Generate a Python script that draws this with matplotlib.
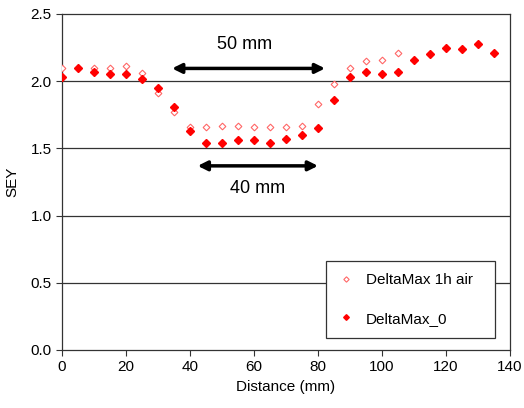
import numpy as np
import matplotlib
matplotlib.use("Agg")
import matplotlib.pyplot as plt

plt.rcParams['font.family'] = ['Liberation Sans', 'DejaVu Sans']

# -- data
distance = [0, 5, 10, 15, 20, 25, 30, 35, 40, 45, 50, 55, 60, 65, 70,
            75, 80, 85, 90, 95, 100, 105, 110, 115, 120, 125, 130, 135]
sey_1h_air = [2.10, 2.10, 2.10, 2.10, 2.11, 2.06, 1.91, 1.77, 1.66, 1.66,
              1.67, 1.67, 1.66, 1.66, 1.66, 1.67, 1.83, 1.98, 2.10, 2.15,
              2.16, 2.21, 2.16, 2.20, 2.25, 2.24, 2.28, 2.21]
sey_0 = [2.03, 2.10, 2.07, 2.05, 2.05, 2.02, 1.95, 1.81, 1.63, 1.54,
         1.54, 1.56, 1.56, 1.54, 1.57, 1.60, 1.65, 1.86, 2.03, 2.07,
         2.05, 2.07, 2.16, 2.20, 2.25, 2.24, 2.28, 2.21]

fig = plt.figure(figsize=(5.24, 4.08), dpi=100)
ax = fig.add_axes([0.1183, 0.1422, 0.855, 0.8235])

for y in [0.5, 1.0, 1.5, 2.0]:
    ax.axhline(y, color='#333333', lw=0.9, zorder=1)

ax.plot(distance, sey_1h_air, ls='none', marker='D', ms=3.4, mfc='white',
        mec='#ff6666', mew=0.8, label='DeltaMax 1h air', zorder=3)
ax.plot(distance, sey_0, ls='none', marker='D', ms=3.6, mfc='red',
        mec='red', label='DeltaMax_0', zorder=4)

# -- arrows and labels
ax.annotate('', xy=(34.4, 2.095), xytext=(82.2, 2.095),
            arrowprops=dict(arrowstyle='<|-|>', color='black', lw=2.5,
                            mutation_scale=14, shrinkA=0, shrinkB=0))
ax.text(57, 2.27, '50 mm', ha='center', va='center', fontsize=13)
ax.annotate('', xy=(42.4, 1.37), xytext=(80, 1.37),
            arrowprops=dict(arrowstyle='<|-|>', color='black', lw=2.5,
                            mutation_scale=14, shrinkA=0, shrinkB=0))
ax.text(61, 1.205, '40 mm', ha='center', va='center', fontsize=13)

ax.set_xlim(0, 140)
ax.set_ylim(0, 2.5)
ax.set_xticks(np.arange(0, 141, 20))
ax.set_yticks(np.arange(0, 2.51, 0.5))
ax.yaxis.set_major_formatter(matplotlib.ticker.FormatStrFormatter('%.1f'))
ax.tick_params(direction='out', length=4, labelsize=11, color='#333333')
for s in ax.spines.values():
    s.set_color('#333333')
    s.set_linewidth(0.9)

ax.set_xlabel('Distance (mm)', fontsize=11, labelpad=4)
ax.set_ylabel('SEY', fontsize=11, labelpad=8)

leg = ax.legend(loc='center', bbox_to_anchor=(0.589, 0.039, 0.377, 0.223),
                mode='expand', fontsize=11, frameon=True, fancybox=False,
                edgecolor='#333333', framealpha=1, handlelength=1,
                markerscale=0.8, labelspacing=1.6, borderpad=0.8,
                borderaxespad=0)
leg.get_frame().set_linewidth(0.9)

fig.savefig('out.png', dpi=100)
